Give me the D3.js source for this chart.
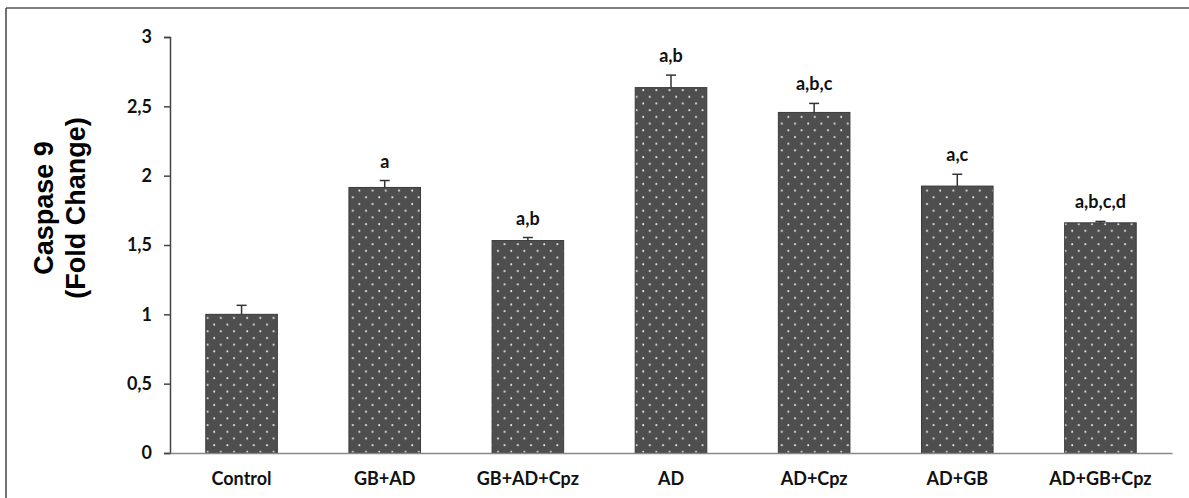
<!DOCTYPE html>
<html>
<head>
<meta charset="utf-8">
<script src="https://cdn.jsdelivr.net/npm/d3@7"></script>
<style>
  html, body { margin: 0; padding: 0; background: #fff; }
  svg { display: block; }
</style>
</head>
<body>
<svg id="chart" width="1189" height="498"></svg>
<script>
const categories = ["Control", "GB+AD", "GB+AD+Cpz", "AD", "AD+Cpz", "AD+GB", "AD+GB+Cpz"];
const means = [1.00, 1.915, 1.532, 2.635, 2.456, 1.925, 1.66];
const errors = [0.065, 0.05, 0.022, 0.09, 0.065, 0.085, 0.01];
const sigLabels = ["", "a", "a,b", "a,b", "a,b,c", "a,c", "a,b,c,d"];
const yTicks = [0, 0.5, 1, 1.5, 2, 2.5, 3];
const yTickLabels = ["0", "0,5", "1", "1,5", "2", "2,5", "3"];
const yTitle = ["Caspase 9", "(Fold Change)"];

const svg = d3.select("#chart");
const margin = { left: 170, top: 37, right: 17, bottom: 45 };
const W = 1189, H = 498;

// frame lines (top and left)
svg.append("line").attr("x1", 6).attr("x2", W).attr("y1", 8).attr("y2", 8)
  .attr("stroke", "#555").attr("stroke-width", 1.5);
svg.append("line").attr("x1", 6).attr("x2", 6).attr("y1", 8).attr("y2", H)
  .attr("stroke", "#444").attr("stroke-width", 1.5);

const x = d3.scaleBand().domain(categories)
  .range([margin.left, W - margin.right]).paddingInner(0.5).paddingOuter(0.25);
const y = d3.scaleLinear().domain([0, 3]).range([H - margin.bottom, margin.top]);

// dotted pattern
const defs = svg.append("defs");
const pat = defs.append("pattern").attr("id", "dots").attr("patternUnits", "userSpaceOnUse")
  .attr("width", 13.2).attr("height", 13.4);
pat.append("rect").attr("width", 13.2).attr("height", 13.4).attr("fill", "#4e4e4e");
pat.append("circle").attr("cx", 3).attr("cy", 3).attr("r", 1).attr("fill", "#e6e6e6");
pat.append("circle").attr("cx", 9.6).attr("cy", 9.7).attr("r", 1).attr("fill", "#e6e6e6");

const font = "Lato, 'Open Sans', sans-serif";
const fs = 18;

// bars
svg.append("g").selectAll("rect").data(categories).join("rect")
  .attr("x", d => x(d))
  .attr("y", (d, i) => y(means[i]))
  .attr("width", x.bandwidth())
  .attr("height", (d, i) => y(0) - y(means[i]))
  .attr("fill", "url(#dots)")
  .attr("stroke", "#3a3a3a").attr("stroke-width", 1);

// error bars
const eg = svg.append("g").attr("stroke", "#333").attr("stroke-width", 1.5);
categories.forEach((c, i) => {
  const cx = x(c) + x.bandwidth() / 2;
  eg.append("line").attr("x1", cx).attr("x2", cx)
    .attr("y1", y(means[i])).attr("y2", y(means[i] + errors[i]));
  eg.append("line").attr("x1", cx - 5).attr("x2", cx + 5)
    .attr("y1", y(means[i] + errors[i])).attr("y2", y(means[i] + errors[i]));
});

// significance labels
svg.append("g").selectAll("text").data(categories).join("text")
  .attr("x", d => x(d) + x.bandwidth() / 2)
  .attr("y", (d, i) => y(means[i] + errors[i]) - 13)
  .attr("text-anchor", "middle")
  .attr("font-family", font).attr("font-weight", "bold").attr("font-size", fs)
  .attr("fill", "#111")
  .text((d, i) => sigLabels[i]);

// y axis
const yAxis = d3.axisLeft(y).tickValues(yTicks)
  .tickFormat((d, i) => yTickLabels[i]).tickSize(6).tickSizeOuter(6).tickPadding(12);
const ya = svg.append("g").attr("transform", `translate(${margin.left},0)`).call(yAxis);
ya.select(".domain").attr("stroke", "#444").attr("stroke-width", 1.5);
ya.selectAll(".tick line").attr("stroke", "#444").attr("stroke-width", 1.5);
ya.selectAll(".tick text").attr("font-family", font).attr("font-weight", "bold")
  .attr("font-size", fs).attr("fill", "#111");

// x axis
const xAxis = d3.axisBottom(x).tickSize(0).tickSizeOuter(0).tickPadding(19);
const xa = svg.append("g").attr("transform", `translate(0,${y(0)})`).call(xAxis);
xa.select(".domain").attr("stroke", "#888").attr("stroke-width", 1.5);
xa.selectAll(".tick text").attr("font-family", font).attr("font-weight", "bold")
  .attr("font-size", fs).attr("fill", "#111");

// y title
const tt = svg.append("text")
  .attr("transform", "translate(53,208) rotate(-90)")
  .attr("text-anchor", "middle")
  .attr("font-family", "'Liberation Sans', Arial, sans-serif")
  .attr("font-weight", "bold").attr("font-size", 27).attr("fill", "#000");
tt.append("tspan").attr("x", 0).attr("y", 0).text(yTitle[0]);
tt.append("tspan").attr("x", 0).attr("y", 32).text(yTitle[1]);
</script>
</body>
</html>
